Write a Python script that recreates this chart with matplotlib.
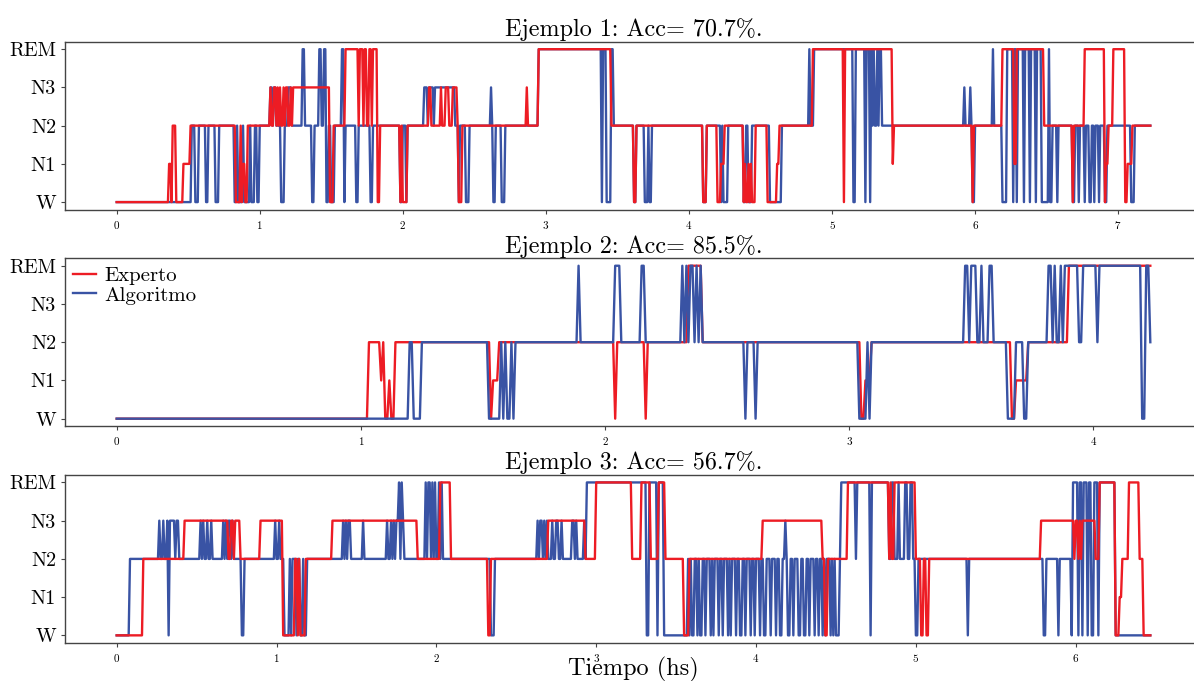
import numpy as np
import matplotlib
matplotlib.use("Agg")
import matplotlib.pyplot as plt

plt.rcParams['font.family'] = 'serif'
plt.rcParams['font.serif'] = ['cmr10']
plt.rcParams['mathtext.fontset'] = 'cm'
plt.rcParams['axes.formatter.use_mathtext'] = True
plt.rcParams['axes.unicode_minus'] = False

# sleep stages (y axis)
stage_labels = ['W', 'N1', 'N2', 'N3', 'REM']

# each hypnogram: list of (hour where stage starts, stage index)
exp1 = [(0, 0), (0.36, 1), (0.38, 0), (0.39, 2), (0.41, 0), (0.46, 1), (0.51, 2),
        (0.83, 0), (0.86, 2), (0.87, 0), (0.88, 1), (0.90, 0), (0.91, 2),
        (1.07, 3), (1.08, 2), (1.10, 3), (1.11, 2), (1.12, 3), (1.13, 2), (1.14, 3),
        (1.15, 2), (1.16, 3), (1.17, 2), (1.18, 3), (1.20, 2), (1.21, 3), (1.22, 2),
        (1.23, 3), (1.49, 0), (1.51, 2), (1.60, 4), (1.69, 2), (1.70, 4), (1.72, 2),
        (1.73, 4), (1.75, 2), (1.76, 4), (1.78, 2), (1.79, 4), (1.82, 0), (1.84, 2),
        (1.98, 0), (1.99, 2), (2.00, 0), (2.03, 2), (2.18, 3), (2.20, 2), (2.26, 3),
        (2.27, 2), (2.30, 3), (2.32, 2), (2.35, 3), (2.38, 2), (2.39, 0), (2.41, 2),
        (2.86, 3), (2.87, 2), (2.95, 4), (3.45, 2), (3.61, 0), (3.63, 2), (4.10, 0),
        (4.12, 2), (4.20, 0), (4.22, 1), (4.25, 2), (4.38, 0), (4.39, 1), (4.40, 0),
        (4.41, 1), (4.42, 0), (4.43, 1), (4.44, 0), (4.46, 2), (4.55, 0), (4.61, 1),
        (4.63, 2), (4.86, 4), (5.08, 0), (5.09, 4), (5.42, 1), (5.43, 2), (5.98, 0),
        (5.99, 2), (6.19, 4), (6.27, 1), (6.29, 4), (6.48, 2), (6.68, 0), (6.69, 2),
        (6.76, 4), (6.90, 0), (6.91, 1), (6.93, 2), (6.96, 4), (7.05, 0), (7.06, 1),
        (7.10, 2)]
alg1 = [(0, 0), (0.52, 2), (0.55, 0), (0.57, 2), (0.62, 0), (0.64, 2), (0.69, 0),
        (0.71, 2), (0.82, 0), (0.84, 2), (0.85, 0), (0.88, 2), (0.89, 0), (0.93, 2),
        (0.94, 0), (0.96, 2), (0.98, 0), (1.00, 2), (1.07, 3), (1.09, 2), (1.10, 3),
        (1.11, 2), (1.15, 0), (1.17, 2), (1.20, 3), (1.22, 2), (1.30, 4), (1.31, 2),
        (1.36, 0), (1.38, 2), (1.41, 4), (1.43, 2), (1.45, 4), (1.46, 0), (1.48, 2),
        (1.50, 0), (1.52, 2), (1.57, 4), (1.59, 0), (1.60, 2), (1.67, 0), (1.69, 2),
        (1.77, 0), (1.79, 2), (1.98, 0), (2.00, 2), (2.02, 0), (2.03, 2), (2.15, 3),
        (2.17, 2), (2.18, 3), (2.21, 2), (2.22, 3), (2.36, 2), (2.39, 0), (2.40, 2),
        (2.44, 0), (2.46, 2), (2.61, 3), (2.62, 2), (2.63, 0), (2.65, 2), (2.69, 0),
        (2.71, 2), (2.95, 4), (3.39, 0), (3.40, 4), (3.42, 0), (3.45, 4), (3.47, 2),
        (3.61, 0), (3.63, 2), (3.69, 0), (3.71, 2), (3.72, 0), (3.74, 2), (4.10, 0),
        (4.12, 2), (4.22, 0), (4.23, 2), (4.24, 0), (4.27, 2), (4.38, 0), (4.40, 2),
        (4.41, 0), (4.44, 2), (4.56, 0), (4.65, 2), (4.84, 4), (4.85, 2), (4.87, 4),
        (5.15, 0), (5.16, 4), (5.23, 0), (5.24, 4), (5.26, 0), (5.27, 4), (5.28, 2),
        (5.29, 4), (5.30, 2), (5.31, 4), (5.32, 2), (5.33, 4), (5.35, 2), (5.92, 3),
        (5.93, 2), (5.96, 3), (5.97, 2), (5.98, 0), (6.00, 2), (6.12, 4), (6.13, 2),
        (6.19, 0), (6.22, 4), (6.26, 0), (6.27, 4), (6.29, 0), (6.30, 4), (6.34, 0),
        (6.35, 4), (6.38, 0), (6.39, 4), (6.42, 0), (6.43, 4), (6.46, 0), (6.51, 4),
        (6.52, 0), (6.54, 2), (6.57, 0), (6.58, 2), (6.68, 0), (6.70, 2), (6.72, 0),
        (6.73, 2), (6.76, 0), (6.77, 2), (6.80, 0), (6.81, 2), (6.83, 0), (6.84, 2),
        (6.86, 0), (6.87, 2), (6.90, 0), (6.92, 2), (7.09, 0), (7.11, 2)]
end1 = 7.225

exp2 = [(0, 0), (1.03, 2), (1.08, 1), (1.09, 2), (1.10, 0), (1.11, 1), (1.12, 0),
        (1.14, 2), (1.53, 0), (1.54, 1), (1.56, 2), (2.04, 0), (2.05, 2), (2.16, 0),
        (2.17, 2), (2.34, 4), (2.40, 2), (3.05, 0), (3.06, 1), (3.09, 2), (3.66, 0),
        (3.68, 1), (3.73, 2), (3.90, 4)]
alg2 = [(0, 0), (1.20, 2), (1.21, 0), (1.25, 2), (1.52, 0), (1.57, 2), (1.58, 0),
        (1.59, 2), (1.60, 0), (1.61, 2), (1.62, 0), (1.63, 2), (1.89, 4), (1.90, 2),
        (2.04, 4), (2.06, 2), (2.15, 4), (2.16, 2), (2.31, 4), (2.32, 2), (2.33, 4),
        (2.34, 2), (2.35, 4), (2.36, 2), (2.37, 4), (2.38, 2), (2.39, 4), (2.40, 2),
        (2.57, 0), (2.58, 2), (2.61, 0), (2.62, 2), (3.04, 0), (3.07, 2), (3.08, 0),
        (3.09, 2), (3.47, 4), (3.49, 2), (3.50, 4), (3.52, 2), (3.54, 4), (3.55, 2),
        (3.57, 4), (3.59, 2), (3.65, 0), (3.68, 2), (3.71, 0), (3.73, 2), (3.81, 4),
        (3.83, 2), (3.84, 4), (3.85, 2), (3.86, 4), (3.87, 2), (3.88, 4), (3.94, 2),
        (3.95, 4), (4.01, 2), (4.02, 4), (4.20, 0), (4.21, 4), (4.23, 2)]
end2 = 4.24

exp3 = [(0, 0), (0.16, 2), (0.42, 3), (0.70, 2), (0.71, 3), (0.73, 2), (0.74, 3),
        (0.77, 2), (0.90, 3), (1.04, 0), (1.11, 2), (1.13, 0), (1.14, 2), (1.15, 0),
        (1.18, 2), (1.35, 3), (1.88, 2), (2.02, 4), (2.09, 2), (2.32, 0), (2.34, 2),
        (2.70, 3), (2.93, 2), (3.00, 4), (3.22, 2), (3.28, 4), (3.34, 2), (3.39, 4),
        (3.43, 2), (3.55, 0), (3.58, 2), (4.04, 3), (4.41, 2), (4.43, 0), (4.45, 2),
        (4.57, 4), (4.83, 2), (4.84, 4), (4.85, 2), (4.86, 4), (5.00, 2), (5.03, 0),
        (5.05, 2), (5.06, 0), (5.08, 2), (5.78, 3), (5.99, 2), (6.00, 3), (6.01, 2),
        (6.02, 3), (6.03, 2), (6.04, 3), (6.12, 2), (6.15, 4), (6.25, 0), (6.27, 1),
        (6.29, 2), (6.33, 4), (6.40, 2), (6.42, 0)]
alg3 = [(0, 0), (0.08, 2), (0.26, 3), (0.27, 2), (0.29, 3), (0.30, 2), (0.31, 3),
        (0.32, 0), (0.33, 3), (0.36, 2), (0.37, 3), (0.39, 2), (0.52, 3), (0.53, 2),
        (0.54, 3), (0.55, 2), (0.56, 3), (0.57, 2), (0.59, 3), (0.60, 2), (0.66, 3),
        (0.67, 2), (0.68, 3), (0.69, 2), (0.70, 3), (0.71, 2), (0.72, 3), (0.73, 2),
        (0.78, 0), (0.80, 2), (0.99, 3), (1.00, 2), (1.01, 3), (1.02, 2), (1.05, 0),
        (1.08, 2), (1.09, 0), (1.10, 2), (1.12, 0), (1.13, 2), (1.15, 0), (1.16, 2),
        (1.17, 0), (1.19, 2), (1.41, 3), (1.42, 2), (1.43, 3), (1.44, 2), (1.45, 3),
        (1.46, 2), (1.54, 3), (1.55, 2), (1.69, 3), (1.70, 2), (1.71, 3), (1.72, 2),
        (1.73, 3), (1.74, 2), (1.75, 3), (1.76, 4), (1.77, 2), (1.78, 4), (1.79, 3),
        (1.80, 2), (1.93, 4), (1.94, 2), (1.95, 4), (1.96, 2), (1.97, 4), (1.98, 2),
        (1.99, 4), (2.00, 2), (2.01, 4), (2.02, 2), (2.03, 4), (2.04, 2), (2.34, 0),
        (2.36, 2), (2.63, 3), (2.64, 2), (2.65, 3), (2.66, 2), (2.67, 3), (2.68, 2),
        (2.69, 3), (2.70, 2), (2.72, 3), (2.73, 2), (2.75, 3), (2.76, 2), (2.78, 3),
        (2.79, 2), (2.85, 3), (2.86, 2), (2.87, 3), (2.88, 2), (2.92, 3), (2.93, 2),
        (2.94, 4), (3.31, 0), (3.33, 4), (3.38, 0), (3.39, 4), (3.42, 0), (3.57, 2),
        (3.58, 0), (3.59, 2), (3.60, 0), (3.61, 2), (3.63, 0), (3.64, 2), (3.65, 0),
        (3.66, 2), (3.68, 0), (3.69, 2), (3.71, 0), (3.72, 2), (3.73, 0), (3.74, 2),
        (3.76, 0), (3.77, 2), (3.79, 0), (3.80, 2), (3.82, 0), (3.83, 2), (3.84, 0),
        (3.85, 2), (3.87, 0), (3.88, 2), (3.90, 0), (3.91, 2), (3.93, 0), (3.94, 2),
        (3.96, 0), (3.97, 2), (3.99, 0), (4.00, 2), (4.02, 0), (4.03, 2), (4.05, 0),
        (4.06, 2), (4.09, 0), (4.10, 2), (4.12, 0), (4.13, 2), (4.15, 0), (4.16, 2),
        (4.18, 3), (4.19, 2), (4.20, 0), (4.21, 2), (4.23, 0), (4.24, 2), (4.26, 0),
        (4.28, 2), (4.30, 0), (4.31, 2), (4.33, 0), (4.34, 2), (4.36, 0), (4.37, 2),
        (4.39, 0), (4.40, 2), (4.41, 0), (4.42, 2), (4.43, 0), (4.44, 2), (4.46, 0),
        (4.47, 2), (4.48, 0), (4.49, 2), (4.50, 0), (4.52, 2), (4.53, 4), (4.62, 2),
        (4.63, 4), (4.71, 0), (4.72, 4), (4.83, 2), (4.85, 4), (4.86, 2), (4.89, 4),
        (4.90, 2), (4.93, 4), (4.95, 2), (4.96, 4), (4.98, 2), (5.00, 0), (5.01, 2),
        (5.32, 0), (5.33, 2), (5.80, 0), (5.81, 2), (5.89, 0), (5.90, 2), (5.97, 0),
        (5.98, 4), (6.01, 0), (6.02, 4), (6.04, 0), (6.05, 4), (6.07, 0), (6.08, 4),
        (6.10, 0), (6.11, 4), (6.14, 0), (6.15, 4), (6.25, 0)]
end3 = 6.47

titles = ['Ejemplo 1: Acc= 70.7%.', 'Ejemplo 2: Acc= 85.5%.', 'Ejemplo 3: Acc= 56.7%.']

RED = '#ed1c24'
BLUE = '#3953a4'
EPOCH = 30 / 3600.0  # 30 s epochs, in hours


def to_epochs(changes, t_end):
    # expand the list of stage changes into one value per epoch
    times = np.array([c[0] for c in changes])
    stages = np.array([c[1] for c in changes])
    t = np.arange(0, t_end + 1e-9, EPOCH)
    idx = np.searchsorted(times, t, side='right') - 1
    return t, stages[idx]


fig = plt.figure(figsize=(11.94, 6.81), dpi=100)

left = 65 / 1194
width = 1137 / 1194
bottoms = [0.692, 0.374, 0.0558]
height = 0.247

panels = [(exp1, alg1, end1), (exp2, alg2, end2), (exp3, alg3, end3)]

for i, (exp, alg, t_end) in enumerate(panels):
    ax = fig.add_axes([left, bottoms[i], width, height])
    te, se = to_epochs(exp, t_end)
    ta, sa = to_epochs(alg, t_end)

    # in the 2nd example the algorithm is drawn on top
    red_z = 2 if i == 1 else 3
    ax.plot(te, se, color=RED, lw=1.7, label='Experto', zorder=red_z)
    ax.plot(ta, sa, color=BLUE, lw=1.7, label='Algoritmo', zorder=2.5)

    ax.set_yticks(range(5))
    ax.set_yticklabels(stage_labels, fontsize=14.5)
    ax.tick_params(axis='x', labelsize=8, length=3, color='#444444')
    ax.tick_params(axis='y', length=3, color='#444444')
    ax.set_xticks(range(int(t_end) + 1))
    for s in ax.spines.values():
        s.set_color('#444444')
        s.set_linewidth(1.0)
    ax.set_title(titles[i], fontsize=17.4, pad=4)

    if i == 1:
        ax.legend(loc='upper left', frameon=False, fontsize=15, handlelength=1.1,
                  handletextpad=0.4, labelspacing=0.05, borderaxespad=0.2,
                  borderpad=0.2)
    if i == 2:
        ax.set_xlabel('Tiempo (hs)', fontsize=17.5, labelpad=-5)

fig.savefig('out.png', dpi=100)
